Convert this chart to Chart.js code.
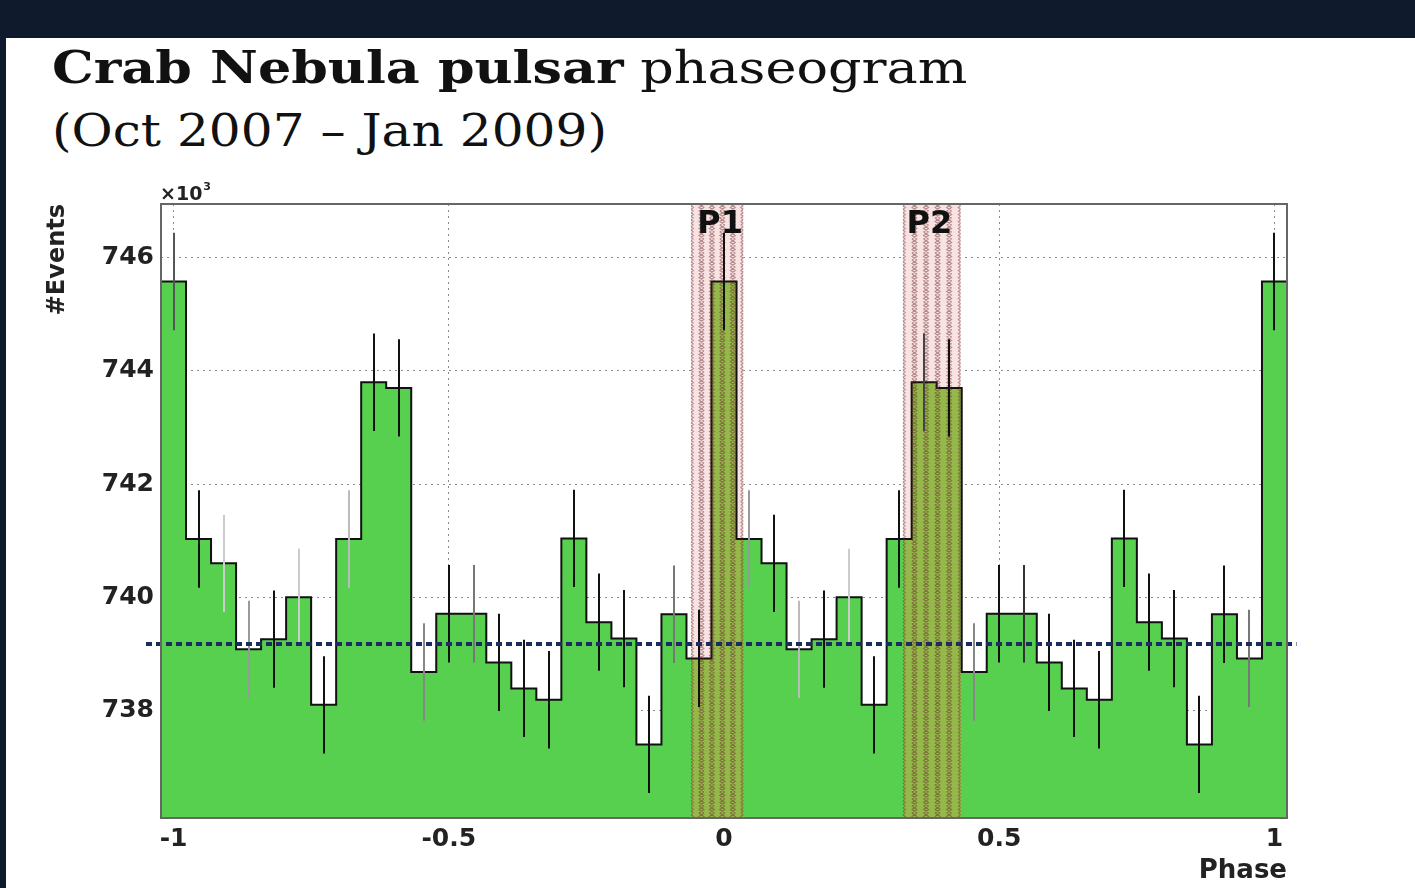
<!DOCTYPE html>
<html><head><meta charset="utf-8">
<script src="https://cdn.jsdelivr.net/npm/chart.js@4.4.1/dist/chart.umd.min.js"></script>
<style>
html,body{margin:0;padding:0;width:1415px;height:888px;overflow:hidden;background:#0f1a2d;}
#panel{position:absolute;left:6px;top:38px;width:1409px;height:850px;background:#fff;}
.tl{position:absolute;left:52px;font-family:"DejaVu Serif",serif;font-size:44px;line-height:63px;color:#111;white-space:nowrap;transform-origin:0 0;}
#t1{top:36px;transform:scaleX(1.19);}
#t2{top:99px;transform:scaleX(1.14);}
.tl b{font-weight:bold;}
canvas{position:absolute;left:0;top:0;}
</style></head><body>
<div id="panel"></div>
<div class="tl" id="t1"><b>Crab Nebula pulsar</b> phaseogram</div>
<div class="tl" id="t2">(Oct 2007 – Jan 2009)</div>
<canvas id="c" width="1415" height="888"></canvas>
<script>
// Phase binning: 22 bins per period, first bin centred on phase -1
const firstBinCenter = -1;
const binWidth = 1 / 22;

// Events per bin (x10^3), bins centred at -1 ... +1
const counts = [
  745.58, 741.03, 740.60, 739.08, 739.26, 740.00, 738.10, 741.03, 743.80, 743.70, 738.68,
  739.71, 739.71, 738.85, 738.39, 738.19, 741.04, 739.56, 739.27, 737.40, 739.70, 738.92,
  745.58, 741.03, 740.60, 739.08, 739.26, 740.00, 738.10, 741.03, 743.80, 743.70, 738.68,
  739.71, 739.71, 738.85, 738.39, 738.19, 741.04, 739.56, 739.27, 737.40, 739.70, 738.92,
  745.58
];
const countErrors = [
  0.86, 0.86, 0.86, 0.86, 0.86, 0.86, 0.86, 0.86, 0.86, 0.86, 0.86,
  0.86, 0.86, 0.86, 0.86, 0.86, 0.86, 0.86, 0.86, 0.86, 0.86, 0.86,
  0.86, 0.86, 0.86, 0.86, 0.86, 0.86, 0.86, 0.86, 0.86, 0.86, 0.86,
  0.86, 0.86, 0.86, 0.86, 0.86, 0.86, 0.86, 0.86, 0.86, 0.86, 0.86,
  0.86
];
const averageLevel = 739.17;

const regionNames = ['P1', 'P2'];
const regionStarts = [-0.06, 0.325];
const regionEnds = [0.035, 0.43];
const regionLabelPhases = [-0.007, 0.373];

const xTickValues = [-1, -0.5, 0, 0.5, 1];
const yTickValues = [738, 740, 742, 744, 746];

// styles
const errorBarShades = [
  '#555', '#111', '#ccc', '#999', '#111', '#ccc', '#111', '#bbb', '#111', '#111', '#888',
  '#111', '#777', '#111', '#111', '#111', '#111', '#111', '#111', '#111', '#777', '#111',
  '#111', '#999', '#111', '#bbb', '#111', '#ccc', '#111', '#111', '#444', '#111', '#888',
  '#111', '#333', '#111', '#111', '#111', '#111', '#111', '#111', '#111', '#111', '#777',
  '#111'
];
const GREEN = '#57cf4f';
const OLIVE = '#94b94a';
const avgLineFrom = -1.05, avgLineTo = 1.04;

const stepPoints = counts.map((v, i) => ({ x: firstBinCenter + (i - 0.5) * binWidth, y: v }));
stepPoints.push({ x: firstBinCenter + (counts.length - 0.5) * binWidth, y: counts[counts.length - 1] });

Chart.defaults.font.family = '"DejaVu Sans", sans-serif';

const overlay = {
  id: 'overlay',
  beforeDatasetsDraw(chart) {
    const { ctx, chartArea: a, scales: { x } } = chart;
    ctx.save();
    ctx.fillStyle = '#f8e2e2';
    regionStarts.forEach((s, i) => {
      const x1 = x.getPixelForValue(s), x2 = x.getPixelForValue(regionEnds[i]);
      ctx.fillRect(x1, a.top, x2 - x1, a.bottom - a.top);
    });
    ctx.restore();
  },
  afterDatasetsDraw(chart) {
    const { ctx, chartArea: a, scales: { x, y } } = chart;
    ctx.save();
    // hatching of signal regions
    regionStarts.forEach((s, i) => {
      const x1 = x.getPixelForValue(s), x2 = x.getPixelForValue(regionEnds[i]);
      ctx.save();
      ctx.beginPath(); ctx.rect(x1, a.top, x2 - x1, a.bottom - a.top); ctx.clip();
      const n = Math.max(1, Math.round((x2 - x1) / 11));
      ctx.strokeStyle = 'rgba(100,35,40,0.45)'; ctx.lineWidth = 1.1;
      for (let j = 0; j <= n; j++) {
        const cx = x1 + j * (x2 - x1) / n;
        ctx.beginPath();
        for (let yy = a.top; yy < a.bottom; yy += 7) {
          ctx.moveTo(cx - 2.5, yy); ctx.lineTo(cx + 2.5, yy + 3.5); ctx.lineTo(cx - 2.5, yy + 7);
          ctx.moveTo(cx + 2.5, yy); ctx.lineTo(cx - 2.5, yy + 3.5); ctx.lineTo(cx + 2.5, yy + 7);
        }
        ctx.stroke();
      }
      ctx.restore();
    });
    // error bars
    ctx.lineWidth = 2;
    counts.forEach((v, i) => {
      const px = Math.round(x.getPixelForValue(firstBinCenter + i * binWidth));
      ctx.strokeStyle = errorBarShades[i];
      ctx.beginPath();
      ctx.moveTo(px, y.getPixelForValue(v + countErrors[i]));
      ctx.lineTo(px, y.getPixelForValue(v - countErrors[i]));
      ctx.stroke();
    });
    // average level
    const yl = Math.round(y.getPixelForValue(averageLevel));
    ctx.setLineDash([6, 4]); ctx.lineWidth = 4; ctx.strokeStyle = '#1b2c5e';
    ctx.beginPath(); ctx.moveTo(x.getPixelForValue(avgLineFrom), yl); ctx.lineTo(x.getPixelForValue(avgLineTo), yl); ctx.stroke();
    ctx.setLineDash([]);
    // frame
    ctx.strokeStyle = '#666'; ctx.lineWidth = 2;
    ctx.strokeRect(a.left, a.top, a.right - a.left, a.bottom - a.top);
    // region labels
    ctx.fillStyle = '#111'; ctx.font = 'bold 32px "DejaVu Sans"'; ctx.textAlign = 'center'; ctx.textBaseline = 'alphabetic';
    regionNames.forEach((nm, i) => {
      ctx.fillText(nm, x.getPixelForValue(regionLabelPhases[i]), a.top + 29);
    });
    // x10^3
    ctx.textAlign = 'left';
    ctx.font = 'bold 19px "DejaVu Sans"';
    ctx.fillStyle = '#222';
    ctx.fillText('×10', a.left - 1, a.top - 4);
    const w = ctx.measureText('×10').width;
    ctx.font = 'bold 11px "DejaVu Sans"';
    ctx.fillText('3', a.left - 1 + w + 1, a.top - 14);
    ctx.restore();
  }
};

new Chart(document.getElementById('c'), {
  type: 'line',
  data: {
    datasets: [{
      data: stepPoints,
      stepped: 'before',
      borderColor: '#111',
      borderWidth: 2,
      pointRadius: 0,
      fill: 'start',
      backgroundColor: (c) => {
        const chart = c.chart, a = chart.chartArea;
        if (!a) return GREEN;
        const x = chart.scales.x;
        const g = chart.ctx.createLinearGradient(a.left, 0, a.right, 0);
        const w = a.right - a.left;
        const f = v => Math.min(1, Math.max(0, (x.getPixelForValue(v) - a.left) / w));
        g.addColorStop(0, GREEN);
        regionStarts.forEach((s, i) => {
          g.addColorStop(f(s), GREEN); g.addColorStop(f(s), OLIVE);
          g.addColorStop(f(regionEnds[i]), OLIVE); g.addColorStop(f(regionEnds[i]), GREEN);
        });
        g.addColorStop(1, GREEN);
        return g;
      }
    }]
  },
  options: {
    responsive: false,
    animation: false,
    devicePixelRatio: 1,
    layout: { padding: { left: 0, top: 204, right: 128, bottom: 0 } },
    plugins: { legend: { display: false }, tooltip: { enabled: false } },
    scales: {
      x: {
        type: 'linear',
        min: firstBinCenter - binWidth / 2,
        max: firstBinCenter + (counts.length - 0.5) * binWidth,
        afterBuildTicks: s => { s.ticks = xTickValues.map(v => ({ value: v })); },
        afterFit: s => { s.height = 70; },
        ticks: { callback: v => String(v), font: { size: 25, weight: 'bold' }, color: '#222', padding: 6, maxRotation: 0, autoSkip: false },
        grid: { color: 'rgba(110,110,110,0.8)', lineWidth: 1, drawTicks: false },
        border: { display: false, dash: [2, 4] },
        title: { display: true, text: 'Phase', align: 'end', font: { size: 26, weight: 'bold' }, color: '#222', padding: { top: 0, bottom: 1 } }
      },
      y: {
        min: 736.1,
        max: 746.95,
        afterBuildTicks: s => { s.ticks = yTickValues.map(v => ({ value: v })); },
        afterFit: s => { s.width = 161; },
        ticks: { callback: v => String(v), font: { size: 25, weight: 'bold' }, color: '#222', padding: 7 },
        grid: { color: 'rgba(110,110,110,0.8)', lineWidth: 1, drawTicks: false },
        border: { display: false, dash: [2, 4] },
        title: { display: true, text: '#Events', align: 'end', font: { size: 24, weight: 'bold' }, color: '#222', padding: { top: 43, bottom: 0 } }
      }
    }
  },
  plugins: [overlay]
});
</script></body></html>
